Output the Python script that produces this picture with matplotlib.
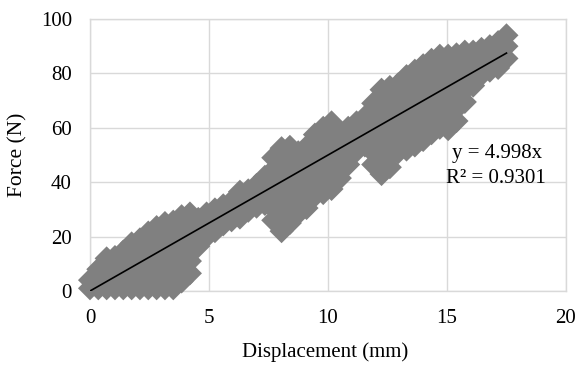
import matplotlib
matplotlib.use("Agg")
import matplotlib.pyplot as plt

plt.rcParams['font.family'] = ['Liberation Serif', 'DejaVu Serif']

# measured points, grouped by displacement column (mm)
disp_cols = [0.0, 0.35, 0.7, 1.05, 1.4, 1.75, 2.1, 2.45, 2.8, 3.15, 3.5, 3.85,
             4.2, 4.55, 4.9, 5.25, 5.6, 5.95, 6.3, 6.65, 7.0, 7.35, 7.7, 8.05,
             8.4, 8.75, 9.1, 9.45, 9.8, 10.15, 10.5, 10.85, 11.2, 11.55, 11.9,
             12.25, 12.6, 12.95, 13.3, 13.65, 14.0, 14.35, 14.7, 15.05, 15.4,
             15.75, 16.1, 16.45, 16.8, 17.15, 17.5]

force_cols = [
    [1, 4],
    [1, 3.5, 8],
    [1, 5.5, 10, 12],
    [1, 3.5, 8, 12.5],
    [1, 5.5, 10, 14.5],
    [1, 3.5, 8, 12.5, 17.5],
    [1, 5.5, 10, 14.5, 19],
    [1, 3.5, 8, 12.5, 17, 21.5],
    [1, 5.5, 10, 14.5, 19, 23.5],
    [1, 3.5, 8, 12.5, 17, 21.5, 25],
    [1, 5.5, 10, 14.5, 19, 25.5],
    [3.5, 8, 12.5, 17, 22, 27.5],
    [6.5, 11, 15.5, 20, 24.5, 28.5],
    [16.5, 21, 26.5],
    [20, 24.5, 28.5],
    [22, 26.5, 30],
    [24.5, 28, 31.5],
    [26, 30, 33],
    [27, 31.5, 36.5],
    [29.5, 33.5, 37],
    [31, 35, 39],
    [32, 36.5, 42],
    [26, 30.5, 35.5, 40, 44.5, 49],
    [22, 27, 32, 37, 42, 47, 52.5],
    [25, 29.5, 34.5, 39.5, 44, 48.5, 53],
    [28.5, 33, 38, 43, 47.5, 51],
    [30.5, 35, 40, 44.5, 49, 53],
    [35, 39.5, 44, 48.5, 53, 57.5],
    [36, 40.5, 45, 50, 55, 60],
    [37.5, 42, 47, 52, 57, 62],
    [41.5, 46, 50.5, 54.5, 58],
    [46.5, 51, 55.5, 60],
    [51.5, 56, 62],
    [53.5, 59, 64],
    [46.5, 51, 56, 60.5, 65, 69],
    [43, 47.5, 52, 57, 62, 67, 71, 74],
    [45.5, 50, 55, 60, 65, 70, 75],
    [51, 55.5, 60.5, 65.5, 70.5, 76],
    [52, 56.5, 61.5, 66.5, 71.5, 75.5, 79],
    [53.5, 58, 63, 68, 73, 77.5, 81],
    [55.5, 60, 65, 70, 75, 79.5, 83],
    [58, 62.5, 67.5, 72.5, 77.5, 81.5, 85],
    [60, 64.5, 69.5, 74.5, 79.5, 83, 86.5],
    [59.5, 64, 69, 74, 79, 83, 86.5],
    [62.5, 67, 72, 77, 82, 87],
    [69.5, 74, 79, 84, 88],
    [75.5, 80, 84.5, 88],
    [79.5, 84, 89],
    [81, 85.5, 90],
    [82, 86.5, 91.5],
    [85.5, 90, 94],
]

slope = 4.998
r2 = 0.9301
trend_x = [0, 17.5]

disp = []
force = []
for x, col in zip(disp_cols, force_cols):
    for f in col:
        disp.append(x)
        force.append(f)

fig = plt.figure(figsize=(5.79, 3.68), dpi=100)
ax = fig.add_axes([0.1554, 0.2092, 0.8221, 0.7392])

ax.scatter(disp, force, marker='D', s=150, color='#808080', edgecolors='none',
           clip_on=False, zorder=3)
ax.plot(trend_x, [slope * v for v in trend_x], color='black', lw=1.2, zorder=4)

ax.set_xlim(0, 20)
ax.set_ylim(0, 100)
ax.set_xticks([0, 5, 10, 15, 20])
ax.set_yticks([0, 20, 40, 60, 80, 100])
ax.grid(True, color='#d9d9d9', lw=1.0)
ax.set_axisbelow(True)
for s in ax.spines.values():
    s.set_color('#d9d9d9')
    s.set_linewidth(1.0)
ax.tick_params(length=0, labelsize=15)
ax.tick_params(axis='y', pad=13)
ax.tick_params(axis='x', pad=13)

ax.set_xlabel('Displacement (mm)', fontsize=15, va='center')
ax.xaxis.set_label_coords(0.494, -0.224)
ax.set_ylabel('Force (N)', fontsize=15.5, va='center')
ax.yaxis.set_label_coords(-0.151, 0.5)

ax.text(17.12, 50.5, 'y = 4.998x', ha='center', va='center', fontsize=15, zorder=5)
ax.text(17.05, 41.3, f'R² = {r2}', ha='center', va='center', fontsize=15, zorder=5)

fig.savefig('out.png', dpi=100)
